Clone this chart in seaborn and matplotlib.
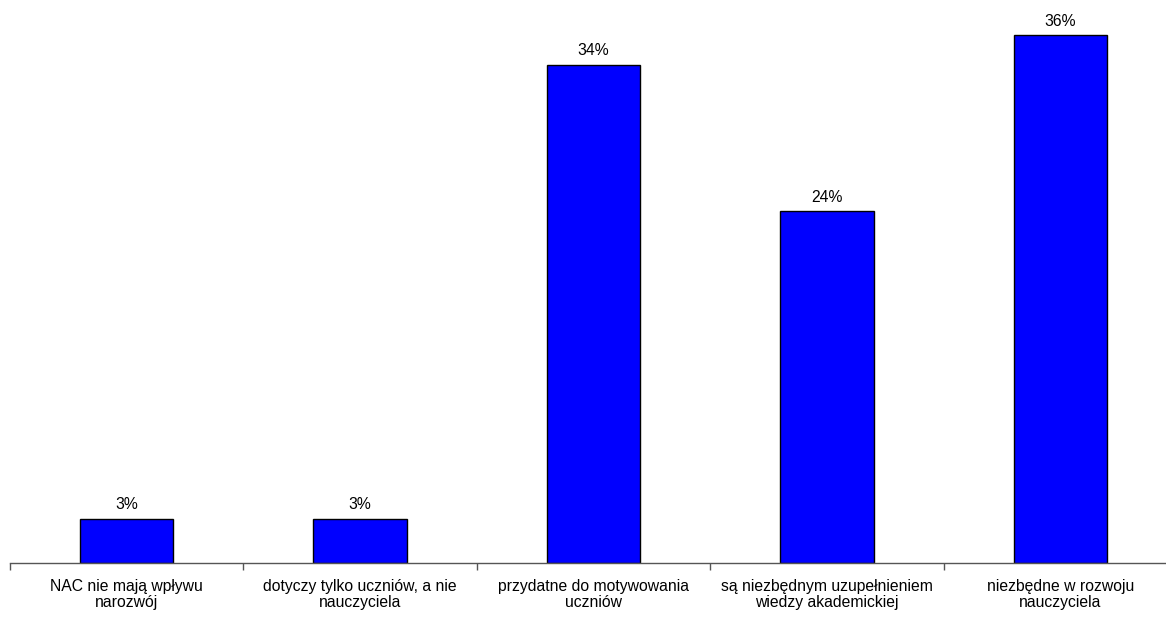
import matplotlib
matplotlib.use("Agg")
import matplotlib.pyplot as plt
import seaborn as sns
import pandas as pd

# -----------------------------
# Data
# -----------------------------
categories = [
    "NAC nie mają wpływu\nnarozwój",
    "dotyczy tylko uczniów, a nie\nnauczyciela",
    "przydatne do motywowania\nuczniów",
    "są niezbędnym uzupełnieniem\nwiedzy akademickiej",
    "niezbędne w rozwoju\nnauczyciela",
]
values = [3, 3, 34, 24, 36]
value_labels = ["3%", "3%", "34%", "24%", "36%"]

df = pd.DataFrame({"category": categories, "value": values})

# -----------------------------
# Settings
# -----------------------------
sns.set_style("white")
plt.rcParams["font.family"] = ["Liberation Sans", "DejaVu Sans"]
plt.rcParams["text.color"] = "black"
plt.rcParams["xtick.color"] = "black"

fig = plt.figure(figsize=(11.66, 6.18), dpi=100)
ax = fig.add_axes([10 / 1166, 55 / 618, 1167 / 1166, 563 / 618])

sns.barplot(
    data=df,
    x="category",
    y="value",
    color="#0000FF",
    saturation=1,
    width=0.4,
    edgecolor="black",
    linewidth=1,
    ax=ax,
)

for i, (v, lab) in enumerate(zip(values, value_labels)):
    ax.text(i, v + 0.45, lab, ha="center", va="bottom", fontsize=11.3, color="black")

ax.set_xlim(-0.5, len(categories) - 0.5)
ax.set_ylim(0, 38.4)
ax.set_xlabel("")
ax.set_ylabel("")
ax.set_yticks([])

for side in ["left", "right", "top"]:
    ax.spines[side].set_visible(False)
ax.spines["bottom"].set_color("#555555")
ax.spines["bottom"].set_linewidth(1)

# labels at centres, tick marks at the category borders
ax.tick_params(axis="x", which="major", length=0, pad=11.5, labelsize=11.3, labelcolor="black")
for t in ax.get_xticklabels():
    t.set_linespacing(1.08)
ax.set_xticks([i - 0.5 for i in range(len(categories) + 1)], minor=True)
ax.tick_params(axis="x", which="minor", length=5, width=1, color="#555555", direction="out")
ax.xaxis.set_ticks_position("bottom")

fig.savefig("out.png", dpi=100)
